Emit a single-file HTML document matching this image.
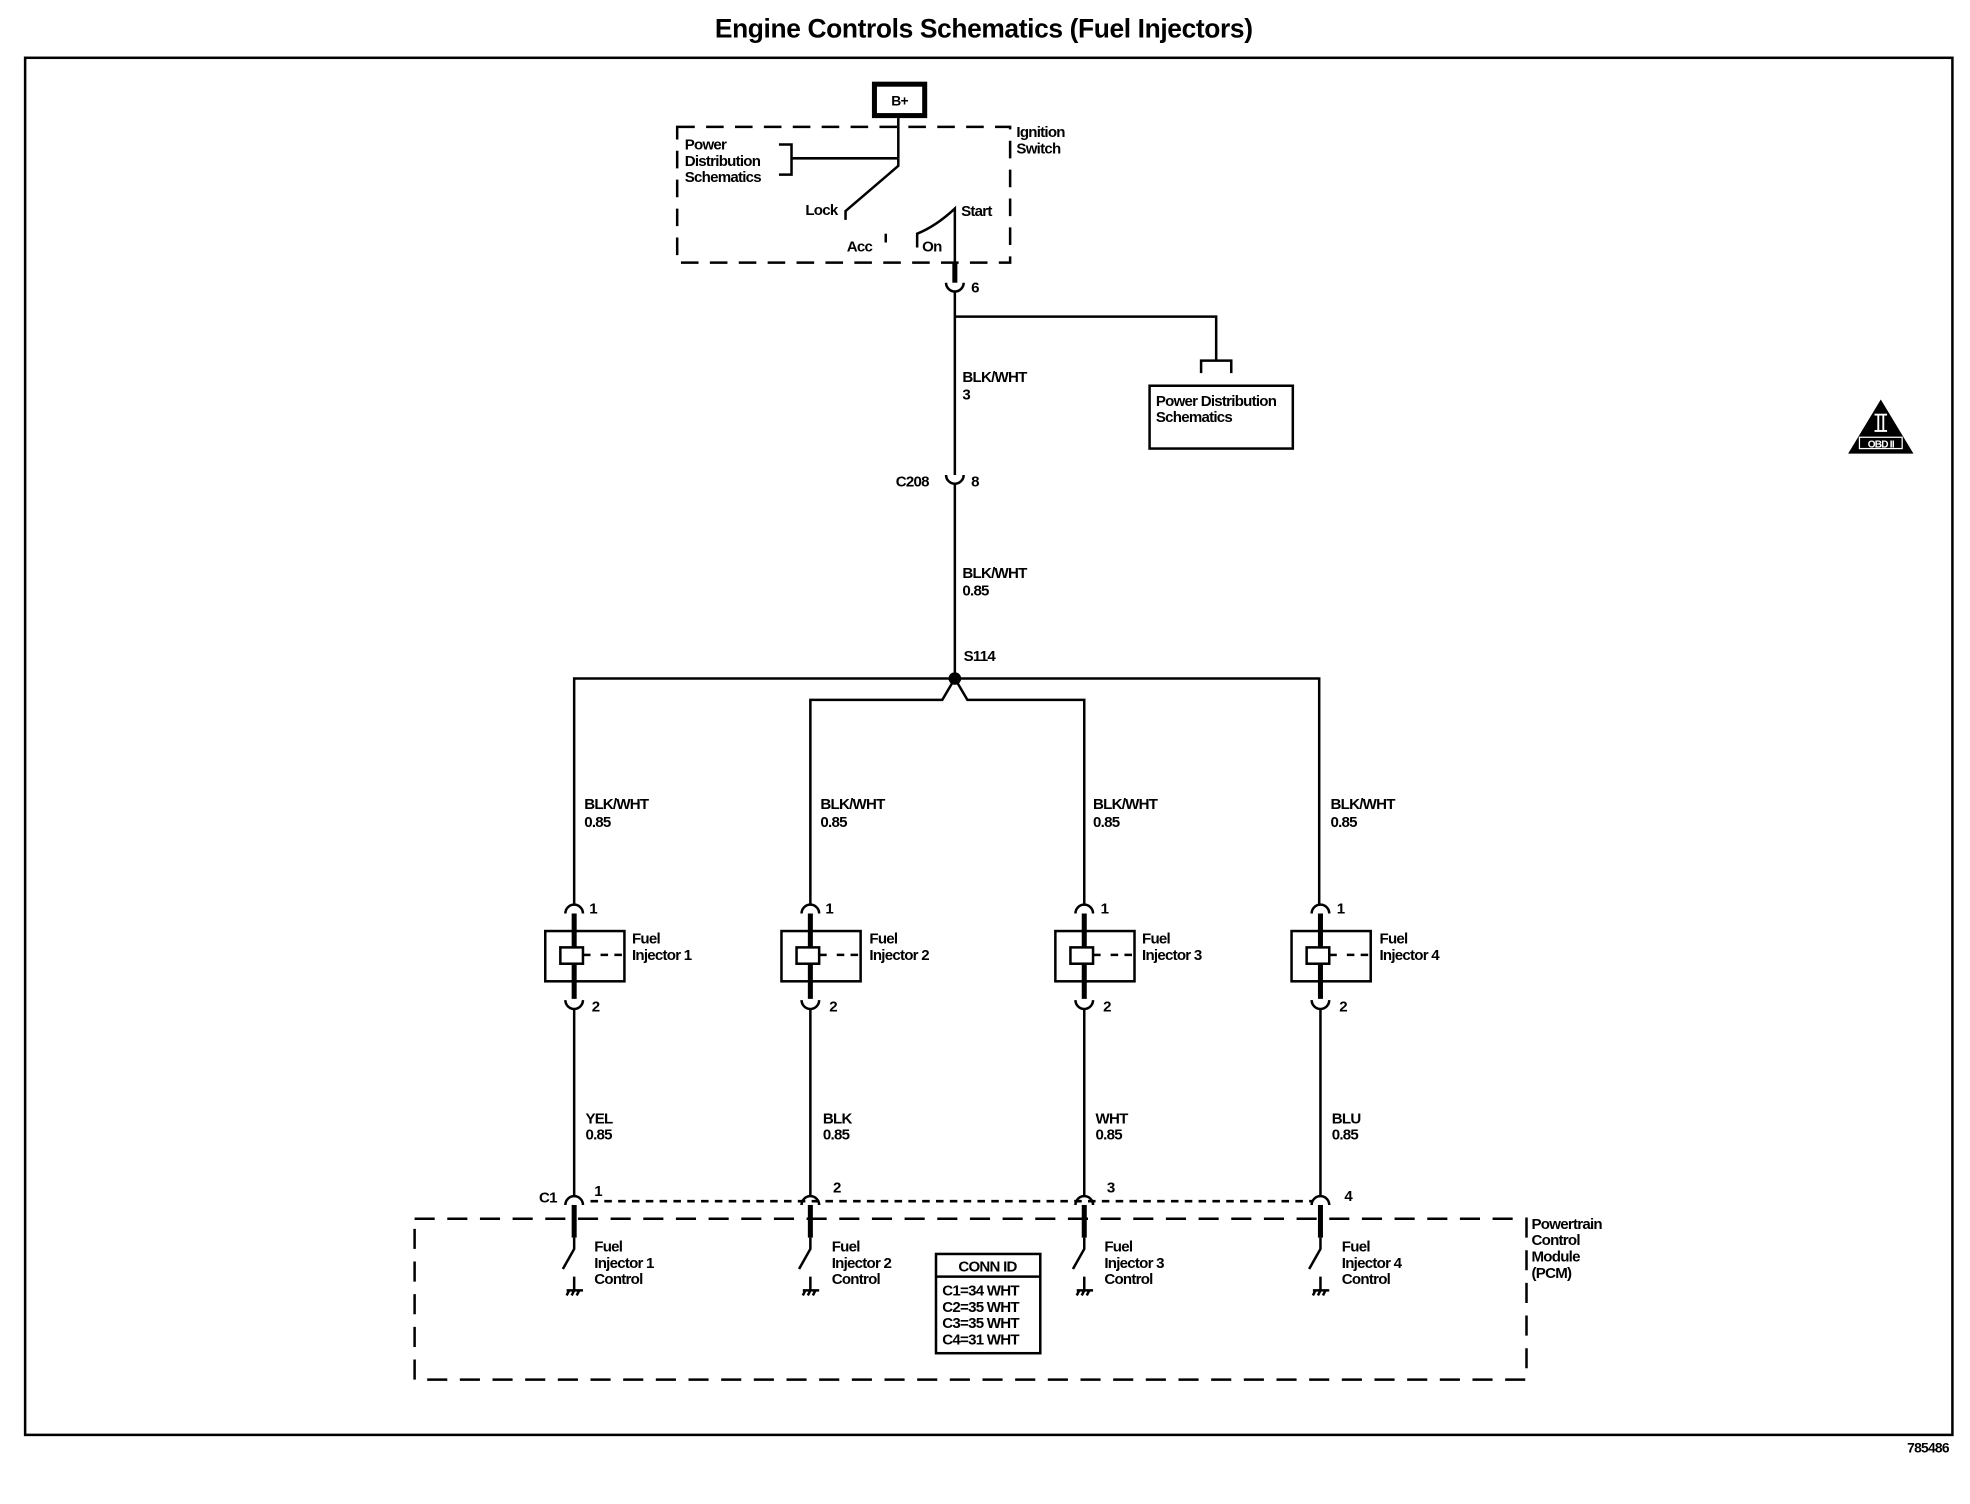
<!DOCTYPE html>
<html><head><meta charset="utf-8"><style>
html,body{margin:0;padding:0;background:#fff;}
svg{display:block;}
text{font-family:"Liberation Sans",Arial,sans-serif;font-size:12px;font-weight:bold;fill:#000;letter-spacing:-0.6px;}
</style></head><body>
<svg width="1970" height="1504" viewBox="0 0 1568 1197" preserveAspectRatio="none" xmlns="http://www.w3.org/2000/svg">
<rect width="1568" height="1197" fill="#fff"/>
<text x="783" y="30" text-anchor="middle" style="font-size:21px;letter-spacing:-0.3px">Engine Controls Schematics (Fuel Injectors)</text>
<rect x="20" y="46" width="1534" height="1096" fill="none" stroke="#000" stroke-width="2"/>
<text x="1518" y="1156" style="font-size:11px">785486</text>

<g fill="none" stroke="#000" stroke-width="2">
<rect x="696" y="67" width="40" height="25" stroke-width="4"/>
<rect x="539" y="101" width="265" height="108" stroke-dasharray="14,9"/>
<line x1="715" y1="94" x2="715" y2="126"/>
<path d="M620,115 H630 V139 H620"/>
<line x1="630" y1="126" x2="715" y2="126"/>
<path d="M715,126 L715,132 L673,168 L673,175"/>
<path d="M760,209 V166 Q745,180 730,186 V197"/>
<line x1="705" y1="186" x2="705" y2="193"/>
<line x1="760" y1="209" x2="760" y2="225" stroke-width="4"/>
<path d="M753,225 A7,7 0 0 0 767,225"/>
<line x1="760" y1="232" x2="760" y2="378"/>
<path d="M753,378 A7,7 0 0 0 767,378"/>
<line x1="760" y1="385" x2="760" y2="540"/>
<path d="M760,252 H968 V287"/>
<path d="M956,297 V287 H980 V297"/>
<rect x="915" y="307" width="114" height="50"/>
<path d="M457,720 V540 H1050 V720"/>
<path d="M760,540 L750,557 H645 V720"/>
<path d="M760,540 L770,557 H863 V720"/>
<line x1="470" y1="956" x2="1045" y2="956" stroke-dasharray="6,5"/>
<rect x="330" y="970" width="885" height="128" stroke-dasharray="16,10"/>
<rect x="745" y="998" width="83" height="79"/>
<line x1="745" y1="1016" x2="828" y2="1016"/>
</g>
<circle cx="760" cy="540" r="5" fill="#000"/>
<text x="716" y="84" style="font-size:11px" text-anchor="middle">B+</text>
<text x="809" y="109">Ignition</text><text x="809" y="122">Switch</text>
<text x="545" y="119">Power</text><text x="545" y="132">Distribution</text><text x="545" y="145">Schematics</text>
<text x="641" y="171">Lock</text>
<text x="765" y="172">Start</text>
<text x="674" y="200">Acc</text>
<text x="734" y="200">On</text>
<text x="773" y="233">6</text>
<text x="766" y="304">BLK/WHT</text><text x="766" y="318">3</text>
<text x="713" y="387">C208</text><text x="773" y="387">8</text>
<text x="766" y="460">BLK/WHT</text><text x="766" y="474">0.85</text>
<text x="767" y="526">S114</text>
<text x="920" y="323">Power Distribution</text><text x="920" y="336">Schematics</text>
<text x="1219" y="978">Powertrain</text><text x="1219" y="991">Control</text><text x="1219" y="1004">Module</text><text x="1219" y="1017">(PCM)</text>
<text x="786" y="1012" text-anchor="middle">CONN ID</text>
<text x="750" y="1031">C1=34 WHT</text><text x="750" y="1044">C2=35 WHT</text><text x="750" y="1057">C3=35 WHT</text><text x="750" y="1070">C4=31 WHT</text>
<text x="429" y="957">C1</text>
<polygon points="1497,318 1471,361 1523,361" fill="#000"/>
<g stroke="#fff" stroke-width="1.5"><line x1="1492" y1="330" x2="1502" y2="330"/><line x1="1492" y1="343" x2="1502" y2="343"/><line x1="1495" y1="330" x2="1495" y2="343"/><line x1="1499" y1="330" x2="1499" y2="343"/></g>
<rect x="1480" y="348" width="34" height="9" fill="none" stroke="#fff" stroke-width="1"/>
<text x="1497" y="356" text-anchor="middle" style="font-size:8px;fill:#fff">OBD II</text>

<g id="inj">
<g fill="none" stroke="#000" stroke-width="2">
<path d="M450,727 A7,7 0 0 1 464,727"/>
<line x1="457" y1="727" x2="457" y2="795" stroke-width="4"/>
<rect x="434" y="741" width="63" height="40"/>
<rect x="446" y="754" width="18" height="13" fill="#fff"/>
<line x1="464" y1="760" x2="470" y2="760"/>
<line x1="478" y1="760" x2="497" y2="760" stroke-dasharray="6,5"/>
<path d="M450,796 A7,7 0 0 0 464,796"/>
<line x1="457" y1="803" x2="457" y2="952"/>
<path d="M450,959 A7,7 0 0 1 464,959"/>
<line x1="457" y1="959" x2="457" y2="985" stroke-width="4"/>
<path d="M457,985 V994 L448,1010"/>
<path d="M457,1016 V1027 M451,1027 H464 M451,1031 L453,1027 M455,1031 L457,1027 M459,1031 L461,1027"/>
</g>
</g>
<use href="#inj" x="188"/><use href="#inj" x="406"/><use href="#inj" x="594"/>

<text x="469" y="727">1</text><text x="471" y="805">2</text>
<text x="503" y="751">Fuel</text><text x="503" y="764">Injector 1</text>
<text x="473" y="996">Fuel</text><text x="473" y="1009">Injector 1</text><text x="473" y="1022">Control</text>
<text x="465" y="644">BLK/WHT</text><text x="465" y="658">0.85</text>
<text x="653" y="644">BLK/WHT</text><text x="653" y="658">0.85</text>
<text x="870" y="644">BLK/WHT</text><text x="870" y="658">0.85</text>
<text x="1059" y="644">BLK/WHT</text><text x="1059" y="658">0.85</text>

<text x="657" y="727">1</text><text x="660" y="805">2</text>
<text x="692" y="751">Fuel</text><text x="692" y="764">Injector 2</text>
<text x="662" y="996">Fuel</text><text x="662" y="1009">Injector 2</text><text x="662" y="1022">Control</text>
<text x="876" y="727">1</text><text x="878" y="805">2</text>
<text x="909" y="751">Fuel</text><text x="909" y="764">Injector 3</text>
<text x="879" y="996">Fuel</text><text x="879" y="1009">Injector 3</text><text x="879" y="1022">Control</text>
<text x="1064" y="727">1</text><text x="1066" y="805">2</text>
<text x="1098" y="751">Fuel</text><text x="1098" y="764">Injector 4</text>
<text x="1068" y="996">Fuel</text><text x="1068" y="1009">Injector 4</text><text x="1068" y="1022">Control</text>

<text x="466" y="894">YEL</text><text x="466" y="907">0.85</text>
<text x="655" y="894">BLK</text><text x="655" y="907">0.85</text>
<text x="872" y="894">WHT</text><text x="872" y="907">0.85</text>
<text x="1060" y="894">BLU</text><text x="1060" y="907">0.85</text>
<text x="473" y="952">1</text><text x="663" y="949">2</text><text x="881" y="949">3</text><text x="1070" y="956">4</text>
</svg>
</body></html>
